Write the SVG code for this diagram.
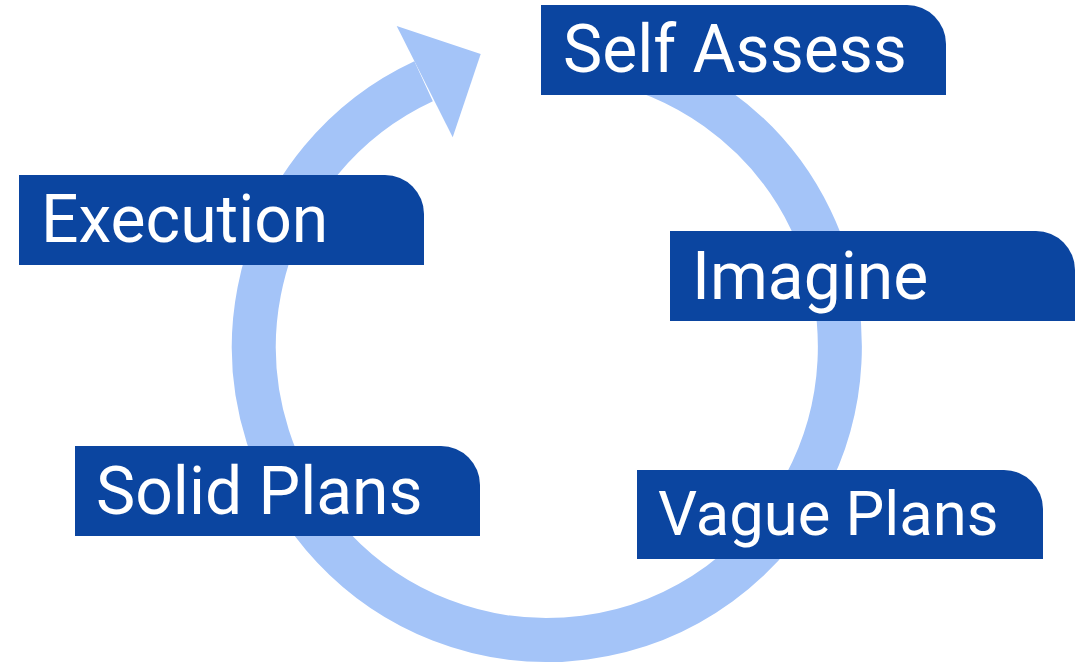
<svg xmlns="http://www.w3.org/2000/svg" width="1089" height="663" viewBox="0 0 1089 663">
<style>
.box{fill:#0B45A0}
.lbl{fill:#FFFFFF;font-family:Roboto,"Liberation Sans",sans-serif;font-size:66px}
.ring{fill:none;stroke:#A4C4F8;stroke-width:44;stroke-linecap:butt}
.head{fill:#A4C4F8}
</style>
<rect width="1089" height="663" fill="#FFFFFF"/>
<g id="connectors">
<path class="ring" d="M 597.9 58.5 A 293 293 0 1 1 423.6 81.2"/>
<polygon class="head" points="396.7,26 480.7,54 452.7,137.3"/>
</g>
<g id="self-assess">
<path class="box" d="M541 5 H907 A39 39 0 0 1 946 44 V95 H541 Z"/>
<text class="lbl" x="563" y="72">Self Assess</text>
</g>
<g id="execution">
<path class="box" d="M19 175 H385 A39 39 0 0 1 424 214 V265 H19 Z"/>
<text class="lbl" x="41" y="242">Execution</text>
</g>
<g id="imagine">
<path class="box" d="M670 231 H1036 A39 39 0 0 1 1075 270 V321 H670 Z"/>
<text class="lbl" x="692" y="299">Imagine</text>
</g>
<g id="solid-plans">
<path class="box" d="M75 446 H441 A39 39 0 0 1 480 485 V536 H75 Z"/>
<text class="lbl" x="96" y="514">Solid Plans</text>
</g>
<g id="vague-plans">
<path class="box" d="M637 470 H1004 A39 39 0 0 1 1043 509 V559 H637 Z"/>
<text class="lbl" x="658" y="535" style="font-size:61.5px">Vague Plans</text>
</g>
</svg>
